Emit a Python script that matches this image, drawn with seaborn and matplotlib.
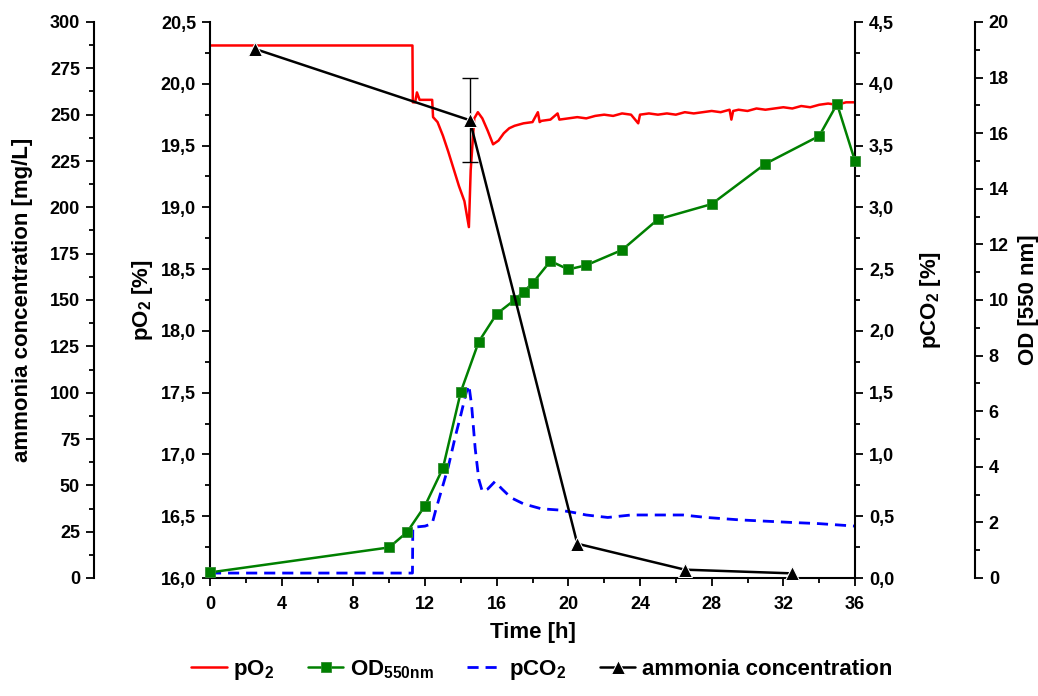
import numpy as np
import matplotlib.pyplot as plt
from matplotlib.ticker import MultipleLocator, FuncFormatter
import pandas as pd
import seaborn as sns

sns.set_style('ticks')
plt.rcParams['font.family'] = ['Liberation Sans', 'DejaVu Sans']
plt.rcParams['font.weight'] = 'bold'
plt.rcParams['mathtext.default'] = 'regular'
for k in ['text.color', 'axes.labelcolor', 'xtick.color', 'ytick.color', 'axes.edgecolor']:
    plt.rcParams[k] = 'black'

# pO2 [%] trace (left inner axis)
po2_time = [0, 11.30, 11.32, 11.45, 11.55, 11.70, 12.40, 12.45, 12.70, 13.00, 13.30,
            13.60, 13.90, 14.20, 14.45, 14.55, 14.75, 14.95, 15.20, 15.50, 15.80,
            16.10, 16.40, 16.70, 17.00, 17.50, 18.00, 18.30, 18.40, 18.50, 19.00,
            19.40, 19.50, 20.00, 20.50, 21.00, 21.50, 22.00, 22.50, 23.00, 23.50,
            23.90, 24.00, 24.50, 25.00, 25.50, 26.00, 26.50, 27.00, 27.50, 28.00,
            28.50, 29.00, 29.10, 29.20, 29.50, 30.00, 30.50, 31.00, 31.50, 32.00,
            32.50, 33.00, 33.50, 34.00, 34.50, 35.00, 35.50, 36.00]
po2 = [20.31, 20.31, 19.85, 19.85, 19.93, 19.87, 19.87, 19.73, 19.69, 19.58, 19.45,
       19.31, 19.17, 19.05, 18.84, 19.30, 19.72, 19.77, 19.72, 19.62, 19.51,
       19.54, 19.60, 19.64, 19.66, 19.68, 19.69, 19.77, 19.69, 19.70, 19.71,
       19.76, 19.71, 19.72, 19.73, 19.72, 19.74, 19.75, 19.74, 19.76, 19.75,
       19.68, 19.75, 19.76, 19.75, 19.76, 19.75, 19.77, 19.76, 19.77, 19.78,
       19.77, 19.79, 19.71, 19.78, 19.79, 19.78, 19.80, 19.79, 19.80, 19.81,
       19.80, 19.82, 19.81, 19.83, 19.84, 19.83, 19.85, 19.85]

# OD 550 nm samples (far right axis)
od_time = [0, 10, 11, 12, 13, 14, 15, 16, 17, 17.5, 18, 19, 20, 21, 23, 25, 28, 31, 34, 35, 36]
od = [0.2, 1.1, 1.65, 2.6, 3.95, 6.7, 8.5, 9.5, 10.0, 10.3, 10.6, 11.4, 11.1, 11.25,
      11.8, 12.9, 13.45, 14.9, 15.9, 17.05, 15.0]

# pCO2 [%] trace (right inner axis)
co2_time = [0, 11.30, 11.32, 12.00, 12.40, 12.60, 12.90, 13.30, 13.70, 14.00, 14.30,
            14.45, 14.60, 14.80, 15.00, 15.20, 15.50, 15.90, 16.30, 16.80, 17.50,
            18.50, 19.50, 20.30, 21.00, 22.20, 23.50, 24.60, 26.40, 27.70, 29.60,
            31.00, 32.40, 34.00, 36.00]
co2 = [0.04, 0.04, 0.41, 0.42, 0.44, 0.55, 0.70, 0.90, 1.15, 1.32, 1.50,
       1.56, 1.40, 1.05, 0.80, 0.70, 0.72, 0.78, 0.72, 0.65, 0.60,
       0.56, 0.55, 0.53, 0.51, 0.49, 0.51, 0.51, 0.51, 0.49, 0.47,
       0.46, 0.45, 0.44, 0.42]

# ammonia concentration [mg/L] (far left axis)
amm_time = [2.5, 14.5, 20.5, 26.5, 32.5]
amm = [285.5, 247.0, 18.5, 4.5, 2.5]
amm_err = [3, 22.6, 3, 3, 2]

fig = plt.figure(figsize=(10.38, 6.96), dpi=100)
ax = fig.add_axes([210/1038, 118/696, 645/1038, 556/696])
ax_co2 = ax.twinx()
ax_od = ax.twinx()
ax_amm = ax.twinx()

sns.lineplot(x=po2_time, y=po2, ax=ax, color='red', lw=1.8,
             estimator=None, sort=False, label='pO$_2$')
sns.lineplot(x=co2_time, y=co2, ax=ax_co2, color='blue', lw=2, ls=(0, (4, 2.5)),
             estimator=None, sort=False, label='pCO$_2$')
sns.lineplot(x=od_time, y=od, ax=ax_od, color='green', lw=1.8, marker='s', markersize=7,
             markeredgecolor='#2e8b2e', markeredgewidth=0.6, clip_on=False,
             estimator=None, sort=False, label='OD$_{550nm}$')
# only the 14.5 h sample has a visible error bar with caps
big = [i for i, e in enumerate(amm_err) if e > 10]
small = [i for i, e in enumerate(amm_err) if e <= 10]
ax_amm.errorbar([amm_time[i] for i in big], [amm[i] for i in big],
                yerr=[amm_err[i] for i in big], fmt='none', ecolor='black',
                elinewidth=1, capsize=6, capthick=1)
ax_amm.errorbar([amm_time[i] for i in small], [amm[i] for i in small],
                yerr=[amm_err[i] for i in small], fmt='none', ecolor='black',
                elinewidth=1, capsize=0, clip_on=False)
sns.lineplot(x=amm_time, y=amm, ax=ax_amm, color='black', lw=1.8, marker='^', markersize=10,
             clip_on=False, estimator=None, sort=False, label='ammonia concentration')

for a in [ax, ax_co2, ax_od, ax_amm]:
    if a.get_legend():
        a.get_legend().remove()
    for s in a.spines.values():
        s.set_visible(False)
        s.set_linewidth(1.5)
    a.tick_params(which='major', direction='out', length=6, width=1.3, labelsize=13, pad=4)
    a.tick_params(which='minor', direction='out', length=3.5, width=1.3)

comma = FuncFormatter(lambda v, p: f'{v:.1f}'.replace('.', ','))

ax.spines['left'].set_visible(True)
ax.spines['bottom'].set_visible(True)
ax.set_xlim(0, 36)
ax.set_ylim(16, 20.5)
ax.xaxis.set_major_locator(MultipleLocator(4))
ax.xaxis.set_minor_locator(MultipleLocator(2))
ax.yaxis.set_major_locator(MultipleLocator(0.5))
ax.yaxis.set_minor_locator(MultipleLocator(0.25))
ax.yaxis.set_major_formatter(comma)
ax.tick_params(axis='x', which='major', pad=7)
ax.set_xlabel('Time [h]', fontsize=16, fontweight='bold')
ax.set_ylabel('pO$_2$ [%]', fontsize=16, fontweight='bold')
ax.xaxis.set_label_coords(0.5, -0.08)
ax.yaxis.set_label_coords(-0.085, 0.5)

ax_co2.spines['right'].set_visible(True)
ax_co2.set_ylim(0, 4.5)
ax_co2.yaxis.set_major_locator(MultipleLocator(0.5))
ax_co2.yaxis.set_minor_locator(MultipleLocator(0.25))
ax_co2.yaxis.set_major_formatter(comma)
ax_co2.set_ylabel('pCO$_2$ [%]', fontsize=16, fontweight='bold')
ax_co2.yaxis.set_label_coords(1.097, 0.5)

ax_od.spines['right'].set_visible(True)
ax_od.spines['right'].set_position(('axes', 1.186))
ax_od.set_ylim(0, 20)
ax_od.yaxis.set_major_locator(MultipleLocator(2))
ax_od.yaxis.set_minor_locator(MultipleLocator(1))
ax_od.set_ylabel('OD [550 nm]', fontsize=16, fontweight='bold')
ax_od.yaxis.set_label_coords(1.252, 0.5)

ax_amm.spines['left'].set_visible(True)
ax_amm.spines['left'].set_position(('axes', -0.18))
ax_amm.yaxis.set_ticks_position('left')
ax_amm.yaxis.set_label_position('left')
ax_amm.set_ylim(0, 300)
ax_amm.yaxis.set_major_locator(MultipleLocator(25))
ax_amm.yaxis.set_minor_locator(MultipleLocator(12.5))
ax_amm.set_ylabel('ammonia concentration [mg/L]', fontsize=16, fontweight='bold')
ax_amm.yaxis.set_label_coords(-0.275, 0.5)

handles = [ax.get_lines()[0], ax_od.get_lines()[0], ax_co2.get_lines()[0], ax_amm.get_lines()[-1]]
labels = ['pO$_2$', 'OD$_{550nm}$', 'pCO$_2$', 'ammonia concentration']
fig.legend(handles, labels, loc='center', bbox_to_anchor=(0.522, 0.037), ncol=4,
           frameon=False, handlelength=1.6, handletextpad=0.3,
           columnspacing=1.5, prop={'weight': 'bold', 'size': 16})

fig.savefig('out.png', dpi=100)
